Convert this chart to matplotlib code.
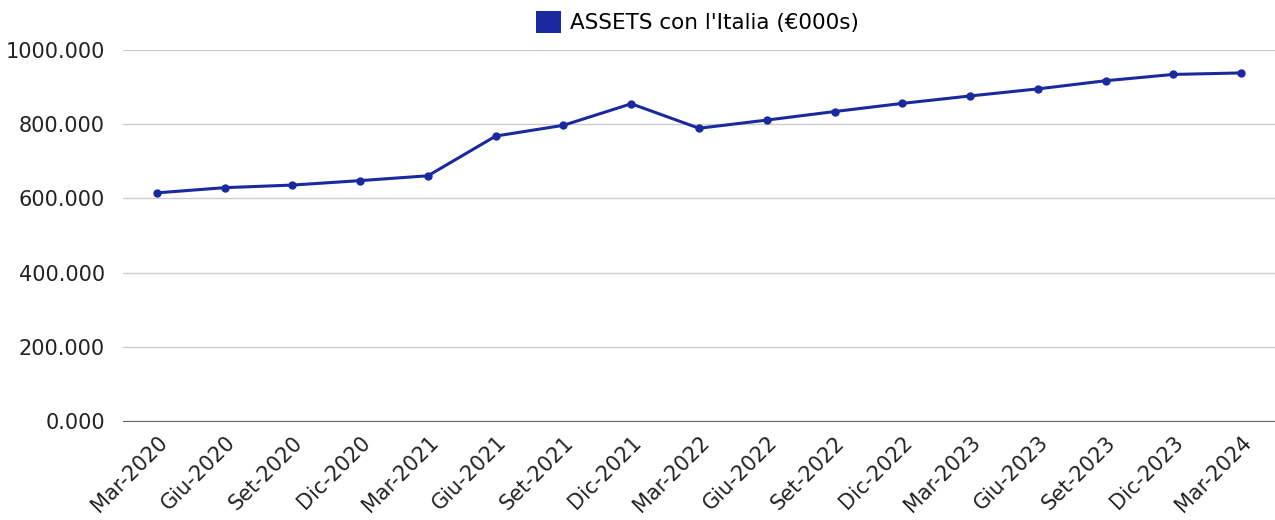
import matplotlib.pyplot as plt
from matplotlib.ticker import FuncFormatter
from matplotlib.patches import Patch

periods = ['Mar-2020', 'Giu-2020', 'Set-2020', 'Dic-2020',
           'Mar-2021', 'Giu-2021', 'Set-2021', 'Dic-2021',
           'Mar-2022', 'Giu-2022', 'Set-2022', 'Dic-2022',
           'Mar-2023', 'Giu-2023', 'Set-2023', 'Dic-2023',
           'Mar-2024']
assets = [615, 629, 636, 648, 661, 768, 797, 855, 789, 811, 834, 856,
          876, 895, 917, 934, 938]

line_color = '#1a2a9e'
plt.rcParams['font.family'] = ['DejaVu Sans']

fig = plt.figure(figsize=(12.75, 5.2), dpi=100)
ax = fig.add_axes([0.0965, 0.19, 0.9035, 0.714])

x = range(len(periods))
ax.plot(x, assets, color=line_color, lw=2.2, marker='o', ms=5)

ax.set_xlim(-0.5, len(periods) - 0.5)
ax.set_ylim(0, 1000)
ax.set_yticks(range(0, 1001, 200))
ax.yaxis.set_major_formatter(FuncFormatter(lambda v, p: f'{v:.3f}'))
ax.set_xticks(list(x))
ax.set_xticklabels(periods, rotation=45, ha='right', rotation_mode='anchor')
ax.tick_params(axis='both', length=0, colors='#222222')
ax.tick_params(axis='y', pad=13, labelsize=15)
ax.tick_params(axis='x', pad=8, labelsize=15)

ax.grid(axis='y', color='#cccccc', lw=1)
ax.set_axisbelow(True)
for s in ['top', 'right', 'left']:
    ax.spines[s].set_visible(False)
ax.spines['bottom'].set_color('#666666')

handle = Patch(facecolor=line_color, edgecolor='none')
fig.legend([handle], ["ASSETS con l'Italia (€000s)"], loc='center',
           bbox_to_anchor=(0.547, 0.957), frameon=False, fontsize=15.5,
           handlelength=1.15, handleheight=1.15, handletextpad=0.45)

fig.savefig('out.png', dpi=100, facecolor='white')
